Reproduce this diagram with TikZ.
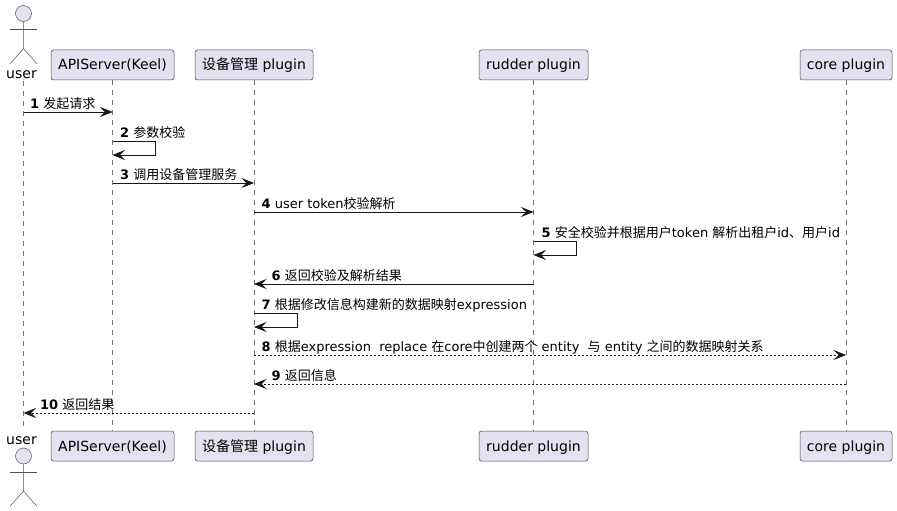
\documentclass[tikz,border=0pt]{standalone}
\usepackage{fontspec}
\setmainfont{DejaVu Sans}
\newfontfamily\cjk{Noto Sans CJK SC}
\usetikzlibrary{arrows.meta}
\newcommand{\zh}[1]{{\cjk #1}}
\definecolor{partfill}{HTML}{E2E2F0}
\definecolor{partline}{HTML}{181818}
\tikzstyle{part}=[draw=partline!80,fill=partfill,rounded corners=2.5pt,line width=0.5pt,minimum height=30pt,inner sep=0pt,text height=11pt,text depth=1pt,font=\fontsize{14}{14}\selectfont]
\tikzstyle{actorline}=[draw=partline!75,line width=0.5pt]
\tikzstyle{actorname}=[inner sep=0pt,anchor=base,font=\fontsize{14}{14}\selectfont]
\tikzstyle{lifeline}=[draw=partline!60,line width=0.5pt,dash pattern=on 5pt off 5pt]
\tikzstyle{msg}=[draw=partline,line width=0.9pt,-{Stealth[length=12.5pt,width=10pt,inset=5pt]}]
\tikzstyle{msgback}=[msg,dash pattern=on 2pt off 2pt]
\tikzstyle{msglabel}=[inner sep=0pt,anchor=base west,font=\fontsize{13}{13}\selectfont]

\begin{document}
\begin{tikzpicture}[x=1pt,y=1pt]
    \useasboundingbox (0,0) rectangle (897,-511);
    % First we draw the participants, top row and bottom row
    \foreach \pos/\bw/\name/\txt in {{112.5/123/api/APIServer(Keel)}, {254/118/dev/\zh{设备管理} plugin}, {533.5/109/rudder/rudder plugin}, {846/92/core/core plugin}} {
        \node[part,minimum width=\bw pt] (\name) at (\pos,-65) {\txt};
        \node[part,minimum width=\bw pt] (\name b) at (\pos,-446) {\txt};
    }
    % The actor on both ends
    \node[actorname] (user) at (21.5,-78) {user};
    \node[actorname] (userb) at (21.5,-444) {user};
    \node[circle,draw=partline!75,fill=partfill,line width=0.5pt,minimum size=16pt,inner sep=0pt] (head) at (23.5,-13.5) {};
    \node[circle,draw=partline!75,fill=partfill,line width=0.5pt,minimum size=16pt,inner sep=0pt] (headb) at (23.5,-456) {};
    \foreach \h in {head,headb} {
        \path[actorline] (\h.south) -- ++(0,-27) coordinate (\h hip) -- ++(-13.5,-15);
        \path[actorline] (\h hip) -- ++(13.5,-15);
        \path[actorline] (\h.south) ++(-13.5,-8) -- ++(27,0);
    }
    % Connect top and bottom with lifelines
    \coordinate (usertop) at (23.5,-81);
    \coordinate (userend) at (23.5,-430);
    \path[lifeline] (usertop) -- (userend);
    \foreach \name in {api,dev,rudder,core}
        \path[lifeline] (\name.south) -- (\name b.north);
    % Plain messages
    \foreach \n/\y/\src/\dst/\style/\lx/\txt in {
        1/112/usertop/api/msg/30/\zh{发起请求},
        3/183/api/dev/msg/120/\zh{调用设备管理服务},
        4/212/dev/rudder/msg/261.5/user token\zh{校验解析},
        6/284/rudder/dev/msg/271.5/\zh{返回校验及解析结果},
        8/355/dev/core/msgback/261.5/\zh{根据}expression\ \ replace \zh{在}core\zh{中创建两个} entity\ \ \zh{与} entity \zh{之间的数据映射关系},
        9/384/core/dev/msgback/271.5/\zh{返回信息},
        10/413/dev/usertop/msgback/40/\zh{返回结果}} {
        \coordinate (s\n) at (\src |- 0,-\y);
        \coordinate (d\n) at (\dst |- 0,-\y);
        \path[\style] (s\n) -- (d\n);
        \node[msglabel] (l\n) at (\lx,-\y+4) {\textbf{\n} \txt};
    }
    % Messages to self
    \foreach \n/\y/\src/\lx/\txt in {
        2/141/api/120/\zh{参数校验},
        5/241/rudder/541.5/\zh{安全校验并根据用户}token \zh{解析出租户}id\zh{、用户}id,
        7/313/dev/261.5/\zh{根据修改信息构建新的数据映射}expression} {
        \coordinate (s\n) at (\src |- 0,-\y);
        \coordinate (d\n) at (\src |- 0,-\y-14);
        \path[msg] (s\n) -- ++(43,0) |- (d\n);
        \node[msglabel] (l\n) at (\lx,-\y+4) {\textbf{\n} \txt};
    }
\end{tikzpicture}
\end{document}
